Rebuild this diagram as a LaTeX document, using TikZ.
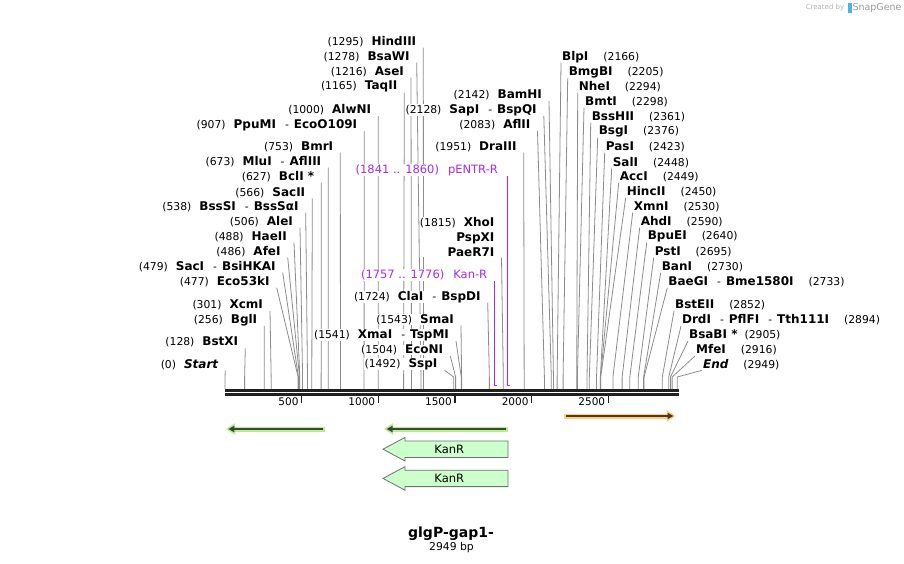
\documentclass[tikz,border=0pt]{standalone}
\usepackage{fontspec}
\setmainfont{DejaVu Sans}
\usetikzlibrary{arrows.meta}
\pgfdeclarelayer{back}
\pgfdeclarelayer{bg}
\pgfsetlayers{back,bg,main}
\definecolor{cutgray}{HTML}{8C8C8C}
\definecolor{primer}{HTML}{A52AF0}
\definecolor{rulerc}{HTML}{202020}
\definecolor{orglow}{HTML}{FFCC80}
\definecolor{grglow}{HTML}{B2F08A}
\definecolor{featdk}{HTML}{3E4438}
\definecolor{ordk}{HTML}{4A3C22}
\definecolor{kanfill}{HTML}{CCFFCC}
\definecolor{kanline}{HTML}{707070}
\definecolor{sgblue}{HTML}{4AB4EA}
\newcommand\nm[1]{{\fontsize{12}{14}\selectfont\bfseries #1}}
\newcommand\sepd{\hspace{9pt}-\hspace{5pt}}
\tikzset{
  lbl/.style={font=\fontsize{10.8}{13}\selectfont, fill=white, inner sep=0.4pt},
  cutline/.style={draw=cutgray, line width=0.8pt},
  plbl/.style={font=\fontsize{11.5}{13}\selectfont, text=primer, fill=white, inner sep=0.4pt},
  pline/.style={draw=primer, line width=1.4pt},
}
% left-type label: id, y, line-top x, bp, content
\newcommand\myCutL[5]{%
  \node[lbl,anchor=east] (n#1) at (#3-6.5,#2) {#5};
  \coordinate (t#1) at (#3,#2+6);
  \coordinate (m#1) at ({225+#4*0.153333},377);
  \coordinate (s#1) at ({225+#4*0.153333},389);
  \begin{pgfonlayer}{bg}\draw[cutline] (t#1) -- (m#1) -- (s#1);\end{pgfonlayer}
}
% right-type label
\newcommand\myCutR[5]{%
  \node[lbl,anchor=west] (n#1) at (#3+0.5,#2) {#5};
  \coordinate (t#1) at (#3,#2+6);
  \coordinate (m#1) at ({225+#4*0.153333},377);
  \coordinate (s#1) at ({225+#4*0.153333},389);
  \begin{pgfonlayer}{bg}\draw[cutline] (t#1) -- (m#1) -- (s#1);\end{pgfonlayer}
}
\newcommand\myKanBox[2]{%
  \draw[fill=kanfill, draw=kanline, line width=0.8pt]
    (383,#2) -- (405,#2-11.8) -- (405,#2-8.2) -- (508,#2-8.2) -- (508,#2+8.2)
    -- (405,#2+8.2) -- (405,#2+11.8) -- cycle;
  \node[font=\fontsize{11.5}{13}\selectfont, inner sep=0] (#1) at (449.3,#2) {KanR};
}
\begin{document}
\begin{tikzpicture}[x=1pt,y=-1pt]
\useasboundingbox (0,0) rectangle (904,563);
\begin{pgfonlayer}{back}
\fill[white] (0,0) rectangle (904,563);
\end{pgfonlayer}

% watermark
\node[font=\fontsize{7}{8}\selectfont, text=black!30, inner sep=0] (wm1) at (825,7.5) {Created by};
\fill[sgblue] (847.5,2.5) rectangle (852,12.5);
\node[font=\fontsize{9.5}{10}\selectfont, text=black!40, inner sep=0] (wm2) at (877,7.5) {SnapGene};

% left cluster
\myCutL{1}{41.7}{423.3}{1295}{(1295)\hspace{8pt}\nm{HindIII}}
\myCutL{2}{56.7}{416.7}{1278}{(1278)\hspace{8pt}\nm{BsaWI}}
\myCutL{3}{71.7}{411}{1216}{(1216)\hspace{8pt}\nm{AseI}}
\myCutL{4}{86.7}{404.3}{1165}{(1165)\hspace{8pt}\nm{TaqII}}
\myCutL{5}{110}{378.3}{1000}{(1000)\hspace{8pt}\nm{AlwNI}}
\myCutL{6}{125}{364.3}{907}{(907)\hspace{8pt}\nm{PpuMI}\sepd\nm{EcoO109I}}
\myCutL{7}{146.7}{340.3}{753}{(753)\hspace{8pt}\nm{BmrI}}
\myCutL{8}{161.7}{328.3}{673}{(673)\hspace{8pt}\nm{MluI}\sepd\nm{AflIII}}
\myCutL{9}{176.7}{321.3}{627}{(627)\hspace{8pt}\nm{BclI *}\hspace{-4.5pt}}
\myCutL{10}{192.3}{312.3}{566}{(566)\hspace{8pt}\nm{SacII}}
\myCutL{11}{206.7}{305.7}{538}{(538)\hspace{8pt}\nm{BssSI}\sepd\nm{BssSαI}}
\myCutL{12}{221.7}{300}{506}{(506)\hspace{8pt}\nm{AleI}}
\myCutL{13}{236.7}{294}{488}{(488)\hspace{8pt}\nm{HaeII}}
\myCutL{14}{251.7}{287.7}{486}{(486)\hspace{8pt}\nm{AfeI}}
\myCutL{15}{266.7}{282.7}{479}{(479)\hspace{8pt}\nm{SacI}\sepd\nm{BsiHKAI}}
\myCutL{16}{281.7}{276.7}{477}{(477)\hspace{8pt}\nm{Eco53kI}}
\myCutL{17}{305}{270}{301}{(301)\hspace{8pt}\nm{XcmI}}
\myCutL{18}{320}{264.3}{256}{(256)\hspace{8pt}\nm{BglI}}
\myCutL{19}{342.3}{245.3}{128}{(128)\hspace{8pt}\nm{BstXI}}
\myCutL{20}{364.3}{225.3}{0}{(0)\hspace{8pt}\nm{\itshape Start}}

% middle
\myCutL{21}{296.7}{487.7}{1724}{(1724)\hspace{8pt}\nm{ClaI}\sepd\nm{BspDI}}
\myCutL{22}{319.3}{461}{1543}{(1543)\hspace{8pt}\nm{SmaI}}
\myCutL{23}{335}{456}{1541}{(1541)\hspace{8pt}\nm{XmaI}\sepd\nm{TspMI}}
\myCutL{24}{350}{450.3}{1504}{(1504)\hspace{8pt}\nm{EcoNI}}
\myCutL{25}{364.3}{444.5}{1492}{(1492)\hspace{8pt}\nm{SspI}}
\myCutL{27}{146.7}{523.7}{1951}{(1951)\hspace{8pt}\nm{DraIII}}
\myCutL{28}{125}{537.5}{2083}{(2083)\hspace{8pt}\nm{AflII}}
\myCutL{29}{110}{543.8}{2128}{(2128)\hspace{8pt}\nm{SapI}\sepd\nm{BspQI}}
\myCutL{30}{95}{549}{2142}{(2142)\hspace{8pt}\nm{BamHI}}

% XhoI group
\node[lbl, anchor=east, align=right, font=\fontsize{12}{15}\selectfont] (n26) at (495,237)
  {{\fontsize{10.8}{13}\selectfont(1815)}\hspace{8pt}\nm{XhoI}\\\nm{PspXI}\\\nm{PaeR7I}};
\coordinate (t26) at (501.5,257.7);
\coordinate (m26) at ({225+1815*0.153333},377);
\coordinate (s26) at ({225+1815*0.153333},389);
\begin{pgfonlayer}{bg}\draw[cutline] (t26) -- (m26) -- (s26);\end{pgfonlayer}

% right cluster
\myCutR{31}{56.7}{561}{2166}{\nm{BlpI}\hspace{15pt}(2166)}
\myCutR{32}{72.3}{567.7}{2205}{\nm{BmgBI}\hspace{15pt}(2205)}
\myCutR{33}{86.7}{577.7}{2294}{\nm{NheI}\hspace{15pt}(2294)}
\myCutR{34}{101.7}{584}{2298}{\nm{BmtI}\hspace{15pt}(2298)}
\myCutR{35}{116.7}{590.7}{2361}{\nm{BssHII}\hspace{15pt}(2361)}
\myCutR{36}{131.7}{597.7}{2376}{\nm{BsgI}\hspace{15pt}(2376)}
\myCutR{37}{146.7}{604.7}{2423}{\nm{PasI}\hspace{15pt}(2423)}
\myCutR{38}{162.3}{611.7}{2448}{\nm{SalI}\hspace{15pt}(2448)}
\myCutR{39}{176.7}{618.7}{2449}{\nm{AccI}\hspace{15pt}(2449)}
\myCutR{40}{191.7}{625.7}{2450}{\nm{HincII}\hspace{15pt}(2450)}
\myCutR{41}{206.7}{632.7}{2530}{\nm{XmnI}\hspace{15pt}(2530)}
\myCutR{42}{221.7}{639.7}{2590}{\nm{AhdI}\hspace{15pt}(2590)}
\myCutR{43}{236.7}{646.7}{2640}{\nm{BpuEI}\hspace{15pt}(2640)}
\myCutR{44}{251.7}{653.7}{2695}{\nm{PstI}\hspace{15pt}(2695)}
\myCutR{45}{266.7}{660.7}{2730}{\nm{BanI}\hspace{15pt}(2730)}
\myCutR{46}{281.7}{667.3}{2733}{\nm{BaeGI}\sepd\nm{Bme1580I}\hspace{15pt}(2733)}
\myCutR{47}{305}{674}{2852}{\nm{BstEII}\hspace{15pt}(2852)}
\myCutR{48}{320}{681}{2894}{\nm{DrdI}\sepd\nm{PflFI}\sepd\nm{Tth111I}\hspace{15pt}(2894)}
\myCutR{49}{335}{688}{2905}{\nm{BsaBI *}\hspace{7pt}(2905)}
\myCutR{50}{350}{695}{2916}{\nm{MfeI}\hspace{15pt}(2916)}
\myCutR{51}{364.3}{702}{2949}{\nm{\itshape End}\hspace{15pt}(2949)}

% primer labels
\node[plbl, anchor=east] (pe) at (498.5,170) {(1841 .. 1860)\hspace{9pt}pENTR-R};
\coordinate (pet) at (507.3,176);
\coordinate (peb) at (507.3,385.7);
\coordinate (per) at (510.4,385.7);
\draw[pline] (pet) -- (peb) -- (per);
\node[plbl, anchor=east] (pk) at (487.8,275) {(1757 .. 1776)\hspace{9pt}Kan-R};
\coordinate (pkt) at (494.3,281);
\coordinate (pkb) at (494.3,385.7);
\coordinate (pkr) at (497.4,385.7);
\draw[pline] (pkt) -- (pkb) -- (pkr);

% ruler
\coordinate (ra) at (225,390.3);
\coordinate (rb) at (679,390.3);
\coordinate (rc) at (225,394.5);
\coordinate (rd) at (679,394.5);
\draw[rulerc, line width=2.7pt] (ra) -- (rb);
\draw[rulerc, line width=2.4pt] (rc) -- (rd);
\foreach \b in {500,1000,1500,2000,2500}{
  \coordinate (ta\b) at ({225+\b*0.153333},395);
  \coordinate (tb\b) at ({225+\b*0.153333},403);
  \draw[rulerc, line width=1.6pt] (ta\b) -- (tb\b);
  \node[font=\fontsize{10.5}{12}\selectfont, anchor=east, inner sep=0] (tl\b) at ({225+\b*0.153333-3},402) {\b};
}

% features
\coordinate (oa) at (564.3,416);
\coordinate (ob) at (675.7,416);
\coordinate (oc) at (566,416);
\coordinate (od) at (673.5,416);
\draw[orglow, line width=5pt, -{Triangle[length=9pt,width=11pt]}] (oa) -- (ob);
\draw[ordk, line width=1.8pt, -{Triangle[length=6pt,width=6pt]}] (oc) -- (od);

\coordinate (ga) at (325,429);
\coordinate (gb) at (226,429);
\coordinate (gc) at (323.3,429);
\coordinate (gd) at (228.3,429);
\draw[grglow, line width=5pt, -{Triangle[length=9pt,width=11pt]}] (ga) -- (gb);
\draw[featdk, line width=1.8pt, -{Triangle[length=6pt,width=6pt]}] (gc) -- (gd);

\coordinate (ha) at (507.7,429);
\coordinate (hb) at (384,429);
\coordinate (hc) at (506,429);
\coordinate (hd) at (386.5,429);
\draw[grglow, line width=5pt, -{Triangle[length=9pt,width=11pt]}] (ha) -- (hb);
\draw[featdk, line width=1.8pt, -{Triangle[length=6pt,width=6pt]}] (hc) -- (hd);

\myKanBox{kan1}{449.2}
\myKanBox{kan2}{478.4}

% title
\node[font=\fontsize{14}{16}\selectfont\bfseries, inner sep=0] (title) at (451,534) {glgP-gap1-};
\node[font=\fontsize{10.8}{12}\selectfont, inner sep=0] (len) at (451.5,547.5) {2949 bp};
\end{tikzpicture}
\end{document}
